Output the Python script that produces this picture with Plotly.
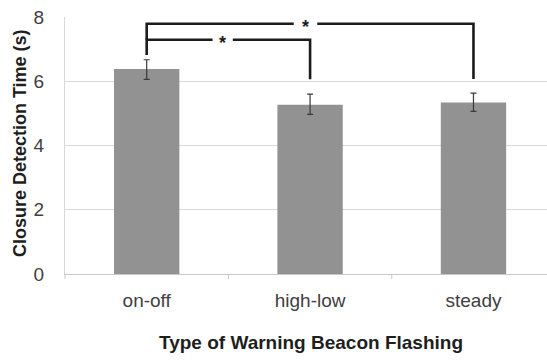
import plotly.graph_objects as go

# Mean closure detection time per flashing type, with error half-widths
categories = ["on-off", "high-low", "steady"]
mean_time = [6.38, 5.27, 5.34]
err_plus = [0.29, 0.33, 0.29]
err_minus = [0.32, 0.30, 0.28]

y_ticks = [0, 2, 4, 6, 8]

# Significance brackets: (from category, to category, bar height, left foot, right foot, star x, gap half-width)
brackets = [
    (0, 1, 7.29, 6.82, 6.06, 0.465, 0.062),
    (0, 2, 7.79, 7.29, 6.07, 0.972, 0.072),
]

fig = go.Figure()
fig.add_trace(go.Bar(
    x=list(range(len(categories))),
    y=mean_time,
    width=0.4,
    marker=dict(color="#929292", line=dict(width=0)),
    error_y=dict(type="data", symmetric=False, array=err_plus, arrayminus=err_minus,
                 color="#3a3a3a", thickness=1.2, width=3),
    showlegend=False,
    hoverinfo="skip",
))

for x0, x1, yb, yl, yr, xs, gap in brackets:
    line = dict(color="#1c1c1c", width=2.6)
    # left leg + left span
    fig.add_trace(go.Scatter(x=[x0, x0, xs - gap], y=[yl, yb, yb], mode="lines",
                             line=line, showlegend=False, hoverinfo="skip"))
    # right span + right leg
    fig.add_trace(go.Scatter(x=[xs + gap, x1, x1], y=[yb, yb, yr], mode="lines",
                             line=line, showlegend=False, hoverinfo="skip"))
    fig.add_annotation(x=xs, y=yb, text="<b>*</b>", showarrow=False, yshift=-3,
                       font=dict(family="Liberation Sans, Arial", size=18, color="#1c1c1c"))

fig.update_layout(
    width=547, height=360,
    margin=dict(l=65, r=0, t=17, b=86),
    paper_bgcolor="white", plot_bgcolor="white",
    font=dict(family="Liberation Sans, Arial", color="#404040"),
)
fig.update_xaxes(
    range=[-0.5, 2.45],
    tickmode="array", tickvals=[0, 1, 2], ticktext=categories,
    tickfont=dict(size=19, color="#404040"),
    showgrid=False, showline=True, linecolor="#c8c8c8", linewidth=1,
    ticks="", zeroline=False, ticklabelstandoff=9,
)
# category boundary ticks along the base line
for b in [0.5, 1.5]:
    fig.add_shape(type="line", xref="x", yref="paper", x0=b, x1=b, y0=0, y1=-0.02,
                  line=dict(color="#c8c8c8", width=1))
fig.add_shape(type="line", xref="paper", yref="paper", x0=0, x1=0, y0=0, y1=-0.02,
              line=dict(color="#c8c8c8", width=1))

fig.update_yaxes(
    range=[0, 8], tickvals=y_ticks,
    tickfont=dict(size=19, color="#404040"),
    showgrid=True, gridcolor="#d9d9d9", gridwidth=1,
    showline=True, linecolor="#d9d9d9", linewidth=1,
    zeroline=False, ticks="", ticklabelstandoff=16,
)

fig.add_annotation(
    text="<b>Closure Detection Time (s)</b>", textangle=-90,
    xref="paper", yref="paper", x=-0.093, y=0.51,
    xanchor="center", yanchor="middle", showarrow=False,
    font=dict(size=18, color="#1e1e1e"),
)
fig.add_annotation(
    text="<b>Type of Warning Beacon Flashing</b>",
    xref="paper", yref="paper", x=0.51, y=-0.268,
    xanchor="center", yanchor="middle", showarrow=False,
    font=dict(size=19, color="#1e1e1e"),
)

fig.write_html("out.html")
